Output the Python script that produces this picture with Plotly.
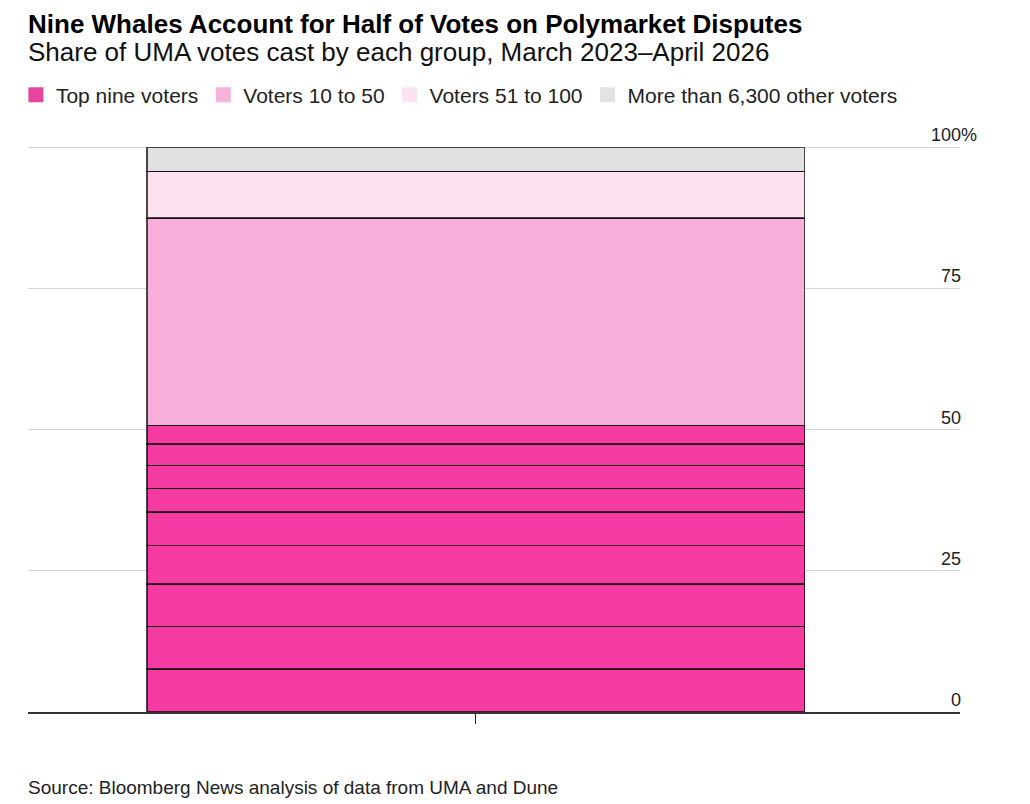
import plotly.graph_objects as go

# Share of UMA votes (%)
top_nine = [7.6, 7.6, 7.5, 6.8, 5.9, 4.2, 4.1, 3.8, 3.3]  # whales, biggest first (bottom of stack)
voters_10_50 = 36.7
voters_51_100 = 8.3
other_voters = 4.2

groups = ["Top nine voters", "Voters 10 to 50", "Voters 51 to 100", "More than 6,300 other voters"]
colors = ["#f53ba2", "#f8afd9", "#fde1ef", "#e1e1e1"]
legend_colors = ["#e8449f", "#f6b3da", "#fbe3ef", "#e3e3e3"]

y_ticks = [0, 25, 50, 75, 100]
y_ticktext = ["0", "25", "50", "75", "100%"]

FONT = "Liberation Sans, Arial, sans-serif"
outline = dict(color="rgba(0,0,0,0.7)", width=1.4)

# plot area: 704 - 117 = 587 px tall
PLOT_TOP, PLOT_BOTTOM = 117, 704
PLOT_W = 1030 - 20 - 78
def py(y):  # figure pixel -> paper y
    return (PLOT_BOTTOM - y) / (PLOT_BOTTOM - PLOT_TOP)

fig = go.Figure()

# one trace per whale so each gets its own outlined segment
for v in top_nine:
    fig.add_trace(go.Bar(x=[0], y=[v], width=1, marker=dict(color=colors[0], line=outline),
                         showlegend=False, hoverinfo="skip"))

for v, c in zip([voters_10_50, voters_51_100, other_voters], colors[1:]):
    fig.add_trace(go.Bar(x=[0], y=[v], width=1, marker=dict(color=c, line=outline),
                         showlegend=False, hoverinfo="skip"))

# legend entries (plain squares, no outline)
for name, c in zip(groups, legend_colors):
    fig.add_trace(go.Scatter(x=[None], y=[None], mode="markers", name=name,
                             marker=dict(symbol="square", size=15, color=c)))

# hide the % on all but the top label while keeping the numbers aligned
pad = "<span style='color:rgba(0,0,0,0)'>%</span>"
ticktext = [t if t.endswith("%") else t + pad for t in y_ticktext]

left = -2 / PLOT_W

fig.update_layout(
    width=1030, height=804,
    barmode="stack",
    plot_bgcolor="white", paper_bgcolor="white",
    margin=dict(l=20, r=78, t=PLOT_TOP, b=804 - PLOT_BOTTOM, autoexpand=False),
    font=dict(family=FONT, color="#1a1a1a"),
    legend=dict(orientation="h", traceorder="normal", x=-0.013, xanchor="left",
                y=py(87), yanchor="middle",
                font=dict(size=21, color="#222222"), itemclick=False),
    xaxis=dict(range=[-0.681, 0.736], tickvals=[0], showticklabels=False,
               ticks="outside", ticklen=10, tickcolor="#222222", tickwidth=1.2,
               showgrid=False, zeroline=False, showline=True, linecolor="#333333", linewidth=1.5),
    yaxis=dict(range=[0, 104], side="right", tickvals=y_ticks, ticktext=ticktext,
               ticklabelposition="inside top", ticklabelstandoff=-20,
               showgrid=True, gridcolor="#d6d6d6", gridwidth=1, zeroline=False,
               ticks="", tickfont=dict(size=18, color="#222222")),
    annotations=[
        dict(text="<b>Nine Whales Account for Half of Votes on Polymarket Disputes</b>",
             xref="paper", yref="paper", x=left, y=py(15.5), xanchor="left", yanchor="middle",
             showarrow=False, font=dict(size=26, color="#000000")),
        dict(text="Share of UMA votes cast by each group, March 2023\u2013April 2026",
             xref="paper", yref="paper", x=left, y=py(43.5), xanchor="left", yanchor="middle",
             showarrow=False, font=dict(size=26, color="#111111")),
        dict(text="Source: Bloomberg News analysis of data from UMA and Dune",
             xref="paper", yref="paper", x=left, y=py(779), xanchor="left", yanchor="middle",
             showarrow=False, font=dict(size=19, color="#222222")),
    ],
)

fig.write_html("out.html")
